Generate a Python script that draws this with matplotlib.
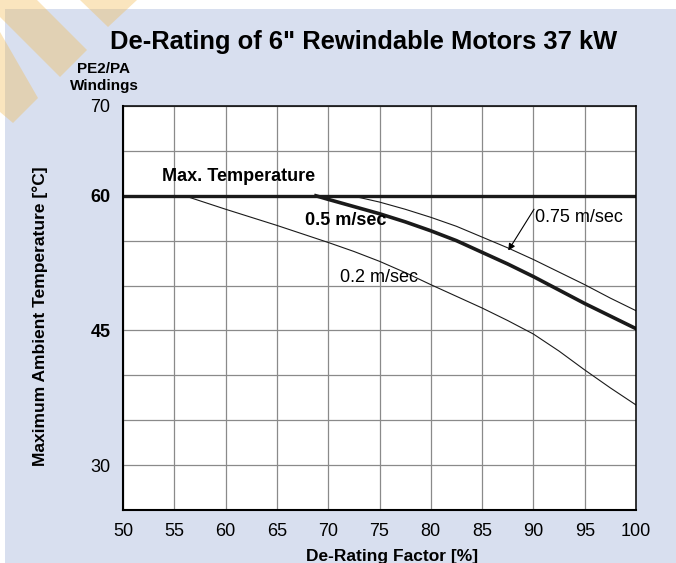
import numpy as np
import matplotlib
matplotlib.use("Agg")
import matplotlib.pyplot as plt
from matplotlib.patches import Polygon, Rectangle

plt.rcParams['font.family'] = ['Liberation Sans', 'DejaVu Sans']

# curves (de-rating factor %, max ambient temperature degC)
max_x = [50, 100]
max_y = [60, 60]

v02_x = [56, 60, 65, 70, 72.5, 75, 77.5, 80, 82.5, 85, 87.5, 90, 92.5, 95, 97.5, 100]
v02_y = [60, 58.5, 56.7, 54.8, 53.8, 52.7, 51.45, 50.1, 48.8, 47.5, 46.1, 44.6, 42.7, 40.6, 38.6, 36.7]

v05_x = [68.8, 70, 72.5, 75, 77.5, 80, 82.5, 85, 87.5, 90, 92.5, 95, 97.5, 100]
v05_y = [60, 59.6, 58.8, 58.0, 57.1, 56.1, 55.0, 53.7, 52.4, 51.0, 49.5, 48.0, 46.6, 45.2]

v075_x = [72.3, 75, 77.5, 80, 82.5, 85, 87.5, 90, 92.5, 95, 97.5, 100]
v075_y = [60, 59.3, 58.5, 57.6, 56.6, 55.4, 54.2, 52.9, 51.5, 50.1, 48.6, 47.2]

x_ticks = [50, 55, 60, 65, 70, 75, 80, 85, 90, 95, 100]
y_grid = [25, 30, 35, 40, 45, 50, 55, 60, 65, 70]
y_labels = {70: "70", 60: "60", 45: "45", 30: "30"}

W, H = 676, 563
fig = plt.figure(figsize=(W / 100, H / 100), dpi=100)
fig.patch.set_facecolor("white")


def px(x, y):
    return (x / W, 1 - y / H)


# light blue panel
fig.add_artist(Rectangle(px(5, H), 1, 1 - 9 / H, transform=fig.transFigure,
                         facecolor="#d8dfef", edgecolor="none", zorder=0))

# decorative stripes top-left
stripe = dict(transform=fig.transFigure, facecolor="#f2bb55", alpha=0.38,
              edgecolor="none", zorder=0.5)
fig.add_artist(Polygon([px(80, 0), px(137, 0), px(108, 27)], **stripe))
fig.add_artist(Polygon([px(0, 0), px(37, 0), px(87, 50), px(60, 77), px(0, 17)], **stripe))
fig.add_artist(Polygon([px(0, 32), px(38, 98), px(13, 123), px(0, 112)], **stripe))

ax = fig.add_axes([123 / W, 1 - 510 / H, (636 - 123) / W, (510 - 106) / H])
ax.set_facecolor("white")
ax.set_xlim(50, 100)
ax.set_ylim(25, 70)

ax.set_xticks(x_ticks)
ax.set_xticklabels([str(v) for v in x_ticks])
ax.set_yticks(y_grid)
ax.set_yticklabels([y_labels.get(v, "") for v in y_grid])
for lab, v in zip(ax.get_yticklabels(), y_grid):
    if v in (60, 45):
        lab.set_fontweight("bold")
ax.tick_params(length=0, labelsize=13, pad=9)
ax.grid(True, color="#8a8a8a", linewidth=0.9)
ax.set_axisbelow(True)
for s in ax.spines.values():
    s.set_color("black")
    s.set_linewidth(1.1)
ax.spines["left"].set_linewidth(1.5)
ax.spines["bottom"].set_linewidth(1.5)

ax.plot(max_x, max_y, color="#1a1a1a", linewidth=2.4, solid_capstyle="butt")
ax.plot(v02_x, v02_y, color="#1a1a1a", linewidth=0.8)
ax.plot(v05_x, v05_y, color="#1a1a1a", linewidth=2.6)
ax.plot(v075_x, v075_y, color="#1a1a1a", linewidth=0.8)

ax.text(53.8, 61.7, "Max. Temperature", fontsize=13, fontweight="bold", va="baseline")
ax.text(67.7, 56.75, "0.5 m/sec", fontsize=13, fontweight="bold", va="baseline")
ax.text(71.15, 50.43, "0.2 m/sec", fontsize=13, va="baseline")
ax.text(90.16, 57.12, "0.75 m/sec", fontsize=13, va="baseline")
ax.annotate("", xy=(87.55, 53.9), xytext=(90.06, 58.5),
            arrowprops=dict(arrowstyle="-|>", color="black", lw=0.8,
                            mutation_scale=10, shrinkA=0, shrinkB=0))

fig.text(364 / W, 1 - 49 / H, 'De-Rating of 6" Rewindable Motors 37 kW',
         fontsize=18.4, fontweight="bold", ha="center", va="baseline")
fig.text(104 / W, 1 - 90 / H, "PE2/PA\nWindings", fontsize=11,
         fontweight="bold", ha="center", va="baseline", multialignment="center",
         linespacing=1.3)
fig.text(40 / W, 1 - 316 / H, "Maximum Ambient Temperature [°C]", fontsize=12.5,
         fontweight="bold", rotation=90, ha="center", va="center")
fig.text(392 / W, 1 - 561 / H, "De-Rating Factor [%]", fontsize=12.5,
         fontweight="bold", ha="center", va="baseline")

fig.savefig("out.png", dpi=100)
